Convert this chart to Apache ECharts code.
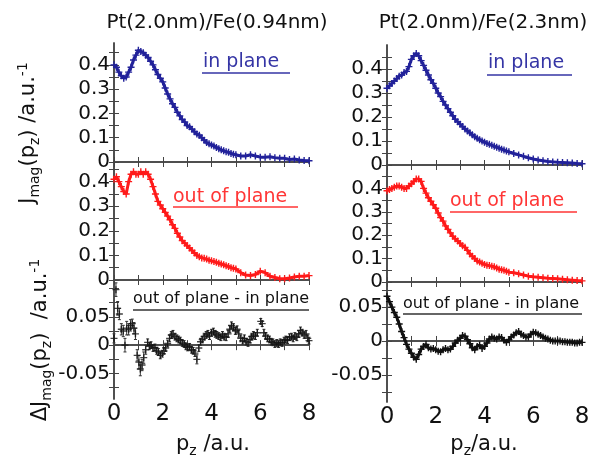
<!DOCTYPE html>
<html><head><meta charset="utf-8">
<script src="https://cdn.jsdelivr.net/npm/echarts@6/dist/echarts.min.js"></script>
<style>html,body{margin:0;padding:0;background:#fff}#c{width:605px;height:460px}</style>
</head><body><div id="c"></div>
<script>
// ---------- data ----------
const xGrid = [0,0.1,0.2,0.3,0.4,0.5,0.6,0.7,0.8,0.9,1.0,1.1,1.2,1.3,1.4,1.5,1.6,1.7,1.8,1.9,
  2.0,2.1,2.2,2.3,2.4,2.5,2.6,2.7,2.8,2.9,3.0,3.1,3.2,3.3,3.4,3.5,3.6,3.7,3.8,3.9,
  4.0,4.1,4.2,4.3,4.4,4.5,4.6,4.7,4.8,4.9,5.0,5.2,5.4,5.6,5.8,6.0,6.2,6.4,6.6,6.8,7.0,7.2,7.4,7.6,7.8,8.0];

const inPlaneThin = [0.40,0.39,0.37,0.355,0.345,0.35,0.37,0.39,0.42,0.44,
  0.46,0.455,0.45,0.44,0.43,0.415,0.40,0.38,0.36,0.345,
  0.33,0.305,0.28,0.26,0.24,0.225,0.205,0.19,0.175,0.165,
  0.15,0.145,0.135,0.125,0.115,0.11,0.10,0.09,0.08,0.075,
  0.07,0.066,0.06,0.055,0.05,0.046,0.042,0.04,0.035,0.032,
  0.03,0.025,0.025,0.03,0.025,0.02,0.02,0.022,0.018,0.015,0.015,0.01,0.012,0.008,0.006,0.005];

const outPlaneThin = [0.41,0.42,0.40,0.38,0.36,0.35,0.40,0.43,0.44,0.43,
  0.43,0.44,0.43,0.44,0.43,0.41,0.38,0.35,0.32,0.305,
  0.29,0.275,0.26,0.245,0.225,0.21,0.19,0.175,0.16,0.15,
  0.14,0.13,0.12,0.11,0.10,0.095,0.09,0.088,0.085,0.08,
  0.078,0.075,0.072,0.068,0.065,0.062,0.058,0.055,0.05,0.048,
  0.045,0.03,0.02,0.018,0.022,0.036,0.03,0.015,0.01,0.005,0.005,0.008,0.012,0.015,0.015,0.018];

const inPlaneThick = [0.32,0.33,0.34,0.35,0.36,0.37,0.375,0.385,0.39,0.41,
  0.44,0.455,0.465,0.455,0.435,0.415,0.395,0.375,0.355,0.34,
  0.32,0.30,0.285,0.265,0.25,0.235,0.22,0.205,0.19,0.18,
  0.17,0.16,0.15,0.142,0.134,0.126,0.118,0.111,0.105,0.10,
  0.095,0.09,0.086,0.082,0.078,0.074,0.07,0.066,0.062,0.058,
  0.055,0.048,0.042,0.036,0.03,0.025,0.021,0.018,0.015,0.013,0.011,0.01,0.009,0.008,0.006,0.005];

const outPlaneThick = [0.39,0.395,0.40,0.405,0.41,0.41,0.405,0.40,0.40,0.41,
  0.42,0.43,0.44,0.44,0.43,0.40,0.38,0.36,0.345,0.33,
  0.315,0.295,0.275,0.26,0.24,0.225,0.21,0.195,0.185,0.175,
  0.165,0.155,0.148,0.135,0.12,0.11,0.10,0.09,0.085,0.08,
  0.075,0.072,0.07,0.067,0.065,0.06,0.055,0.052,0.05,0.046,
  0.042,0.04,0.035,0.03,0.025,0.022,0.02,0.018,0.016,0.015,0.014,0.012,0.01,0.008,0.006,0.005];

const diffThinX = [0.00,0.08,0.15,0.22,0.30,0.38,0.45,0.52,0.60,0.68,0.75,0.82,0.88,0.95,1.02,1.08,1.15,1.22,1.30,1.38,
  1.45,1.52,1.60,1.68,1.75,1.82,1.90,1.98,2.05,2.12,2.20,2.28,2.35,2.42,2.50,2.58,2.65,2.72,2.80,2.88,
  2.95,3.02,3.10,3.18,3.25,3.32,3.40,3.48,3.55,3.62,3.70,3.78,3.85,3.92,4.00,4.08,4.15,4.22,4.30,4.38,
  4.45,4.52,4.60,4.68,4.75,4.82,4.90,4.98,5.05,5.12,5.20,5.28,5.35,5.42,5.50,5.58,5.65,5.72,5.80,5.88,
  6.02,6.08,6.15,6.22,6.30,6.38,6.45,6.52,6.60,6.68,6.75,6.82,6.90,6.98,7.05,7.12,7.20,7.28,7.35,7.42,
  7.50,7.58,7.65,7.72,7.80,7.88,7.95,8.00];
const diffThinY = [0.012,0.098,0.065,0.055,0.028,0.025,0.000,0.030,0.028,0.035,0.038,0.030,0.020,-0.018,-0.030,-0.042,-0.035,-0.022,-0.008,0.005,
  -0.002,0.000,-0.005,-0.004,-0.010,-0.012,-0.018,-0.015,-0.010,-0.005,0.003,0.012,0.018,0.020,0.015,0.012,0.010,0.008,0.004,0.002,
  -0.002,-0.004,-0.003,-0.008,-0.010,-0.014,-0.025,-0.005,0.006,0.010,0.015,0.018,0.020,0.016,0.022,0.024,0.020,0.018,0.016,0.014,
  0.018,0.015,0.014,0.020,0.028,0.035,0.032,0.025,0.028,0.020,0.012,0.008,0.012,0.006,0.004,0.010,0.015,0.018,0.016,0.022,
  0.042,0.038,0.022,0.016,0.012,0.010,0.006,0.005,0.002,0.004,0.002,0.005,0.004,0.008,0.010,0.009,0.014,0.015,0.012,0.016,
  0.014,0.020,0.026,0.022,0.018,0.020,0.012,0.008];
const diffThinErr = [0.008,0.012,0.012,0.010,0.010,0.010,0.012,0.012,0.010,0.010,0.008,0.010,0.010,0.010,0.012,0.012,0.010,0.010,0.008,0.006,
  0.006,0.006,0.006,0.006,0.006,0.006,0.006,0.006,0.006,0.006,0.006,0.006,0.006,0.006,0.006,0.006,0.006,0.006,0.006,0.006,
  0.006,0.006,0.006,0.006,0.006,0.006,0.008,0.006,0.006,0.006,0.006,0.006,0.006,0.006,0.006,0.006,0.006,0.006,0.006,0.006,
  0.006,0.006,0.006,0.006,0.006,0.006,0.006,0.006,0.006,0.006,0.006,0.006,0.006,0.006,0.006,0.006,0.006,0.006,0.006,0.006,
  0.005,0.005,0.006,0.006,0.006,0.006,0.006,0.006,0.006,0.006,0.006,0.006,0.006,0.006,0.006,0.006,0.006,0.006,0.006,0.006,
  0.006,0.006,0.006,0.006,0.006,0.006,0.006,0.006];

const diffThickX = [0,0.1,0.2,0.3,0.4,0.5,0.6,0.7,0.8,0.9,1.0,1.1,1.2,1.3,1.4,1.5,1.6,1.7,1.8,1.9,
  2.0,2.1,2.2,2.3,2.4,2.5,2.6,2.7,2.8,2.9,3.0,3.1,3.2,3.3,3.4,3.5,3.6,3.7,3.8,3.9,
  4.0,4.1,4.2,4.3,4.4,4.5,4.6,4.7,4.8,4.9,5.0,5.1,5.2,5.3,5.4,5.5,5.6,5.7,5.8,5.9,
  6.0,6.1,6.2,6.3,6.4,6.5,6.6,6.7,6.8,6.9,7.0,7.1,7.2,7.3,7.4,7.5,7.6,7.7,7.8,7.9,8.0];
const diffThickY = [0.066,0.058,0.050,0.042,0.035,0.025,0.014,0.005,-0.005,-0.012,-0.018,-0.024,-0.027,-0.020,-0.012,-0.008,-0.005,-0.010,-0.012,-0.011,
  -0.013,-0.015,-0.016,-0.013,-0.011,-0.013,-0.012,-0.008,-0.003,0.001,0.004,0.008,0.007,0.002,-0.004,-0.010,-0.013,-0.008,-0.006,-0.011,
  -0.008,-0.003,0.003,0.006,0.004,0.003,0.006,0.005,0.001,-0.002,0.002,0.006,0.009,0.012,0.014,0.010,0.008,0.006,0.006,0.010,
  0.013,0.012,0.010,0.008,0.006,0.004,0.003,0.001,0.000,0.000,0.000,0.000,-0.001,-0.001,-0.002,-0.002,-0.002,-0.003,-0.003,-0.002,-0.002];

// tick / label values
const xTicks = [0,1,2,3,4,5,6,7,8];
const xLabels = [0,2,4,6,8];
const jTicks = [0,0.05,0.1,0.15,0.2,0.25,0.3,0.35,0.4,0.45];
const jLabels = [0,0.1,0.2,0.3,0.4];
const dTicksL = [-0.075,-0.05,-0.025,0,0.025,0.05,0.075,0.1];
const dTicksR = [-0.075,-0.05,-0.025,0,0.025,0.05,0.075];
const dLabels = [-0.05,0,0.05];

const titles = ['Pt(2.0nm)/Fe(0.94nm)', 'Pt(2.0nm)/Fe(2.3nm)'];

// ---------- layout ----------
const FONT = 'DejaVu Sans';
const BLUE = '#22229a', RED = '#ff1a1a', BLACK = '#111111';
const AX = '#444444';
const grids = [
  {left:114, top:43,  width:195, height:119, ymin:0, ymax:0.49, yt:jTicks, yl:jLabels, xl:false},
  {left:114, top:162, width:195, height:118, ymin:0, ymax:0.48, yt:jTicks, yl:jLabels, xl:false},
  {left:114, top:280, width:195, height:119, ymin:-0.095, ymax:0.115, yt:dTicksL, yl:dLabels, xl:true},
  {left:387, top:45,  width:195, height:120, ymin:0, ymax:0.5, yt:jTicks, yl:jLabels, xl:false},
  {left:387, top:165, width:195, height:117, ymin:0, ymax:0.5, yt:jTicks, yl:jLabels, xl:false},
  {left:387, top:282, width:195, height:120, ymin:-0.09, ymax:0.087, yt:dTicksR, yl:dLabels, xl:true}
];

const gridOpt = [], xAxes = [], yAxes = [];
grids.forEach((g, i) => {
  gridOpt.push({left:g.left, top:g.top, width:g.width, height:g.height, containLabel:false, outerBoundsMode:'none'});
  const line = {show:true, lineStyle:{color:AX, width:1.5}};
  const tick = vals => ({show:true, inside:true, length:5, lineStyle:{color:AX, width:1}, customValues:vals});
  xAxes.push({type:'value', gridIndex:i, position:'bottom', min:0, max:8, axisLine:line, axisTick:tick(xTicks),
    splitLine:{show:false},
    axisLabel:{show:g.xl, customValues:xLabels, fontFamily:FONT, fontSize:23, color:'#111', margin:4}});
  xAxes.push({type:'value', gridIndex:i, position:'top', min:0, max:8, axisLine:line, axisTick:tick(xTicks),
    splitLine:{show:false}, axisLabel:{show:false}});
  yAxes.push({type:'value', gridIndex:i, position:'left', min:g.ymin, max:g.ymax, axisLine:line, axisTick:tick(g.yt),
    splitLine:{show:false},
    axisLabel:{show:true, customValues:g.yl, fontFamily:FONT, fontSize:20, color:'#111', margin:4}});
  yAxes.push({type:'value', gridIndex:i, position:'right', min:g.ymin, max:g.ymax, axisLine:line, axisTick:tick(g.yt),
    splitLine:{show:false}, axisLabel:{show:false}});
});

const PLUS = 'path://M2,0H3V5H2Z M0,2H5V3H0Z';
function pairs(xs, ys) { return xs.map((x, k) => [x, ys[k]]); }
function lineSeries(idx, xs, ys, color) {
  return {type:'line', xAxisIndex:idx*2, yAxisIndex:idx*2, data:pairs(xs, ys), showAllSymbol:true,
    symbol:PLUS, symbolSize:7, itemStyle:{color:color}, lineStyle:{color:color, width:3}, silent:true, z:3};
}

const series = [
  lineSeries(0, xGrid, inPlaneThin, BLUE),
  lineSeries(1, xGrid, outPlaneThin, RED),
  lineSeries(3, xGrid, inPlaneThick, BLUE),
  lineSeries(4, xGrid, outPlaneThick, RED),
  lineSeries(5, diffThickX, diffThickY, BLACK),
  {type:'custom', xAxisIndex:4, yAxisIndex:4, silent:true, z:2,
    data: diffThinX.map((x, k) => [x, diffThinY[k], diffThinErr[k]]),
    renderItem: function (params, api) {
      const x = api.value(0), y = api.value(1), e = api.value(2);
      const p1 = api.coord([x, y - e]), p2 = api.coord([x, y + e]);
      return {type:'group', children:[
        {type:'line', shape:{x1:p1[0], y1:p1[1], x2:p2[0], y2:p2[1]}, style:{stroke:'#333', lineWidth:1}},
        {type:'line', shape:{x1:p1[0]-1.5, y1:p1[1], x2:p1[0]+1.5, y2:p1[1]}, style:{stroke:'#333', lineWidth:1}},
        {type:'line', shape:{x1:p2[0]-1.5, y1:p2[1], x2:p2[0]+1.5, y2:p2[1]}, style:{stroke:'#333', lineWidth:1}}
      ]};
    }},
  {type:'scatter', xAxisIndex:4, yAxisIndex:4, data:pairs(diffThinX, diffThinY), symbol:PLUS, symbolSize:7,
    itemStyle:{color:BLACK}, silent:true, z:3}
];

function txt(x, y, text, size, color, align) {
  return {type:'text', x:x, y:y, silent:true, z:10,
    style:{text:text, fontFamily:FONT, fontSize:size, fill:color, align:align || 'left', verticalAlign:'middle'}};
}
function uline(x1, x2, y, color, w) {
  return {type:'line', silent:true, z:10, shape:{x1:x1, y1:y, x2:x2, y2:y}, style:{stroke:color, lineWidth:w || 1.5}};
}
const richBase = {
  a:{fontFamily:FONT, fontSize:21, lineHeight:26, fill:'#111'},
  s:{fontFamily:FONT, fontSize:14, lineHeight:15, fill:'#111', verticalAlign:'bottom'},
  p:{fontFamily:FONT, fontSize:14, lineHeight:15, fill:'#111', verticalAlign:'top'}
};
function richText(x, y, text, rot) {
  return {type:'text', x:x, y:y, rotation:rot || 0, silent:true, z:10,
    style:{text:text, rich:richBase, align:'center', verticalAlign:'middle'}};
}

const graphic = [
  txt(217, 23, titles[0], 20, '#111', 'center'),
  txt(483, 23, titles[1], 20, '#111', 'center'),
  txt(203, 62, 'in plane', 19, '#3535a5'), uline(202, 290, 73, '#3535a5'),
  txt(488, 63.5, 'in plane', 19, '#3535a5'), uline(487, 572, 75, '#3535a5'),
  txt(173, 197.5, 'out of plane', 19, '#ff3535'), uline(173, 298, 207, '#ff3535'),
  txt(450, 201.5, 'out of plane', 19, '#ff3535'), uline(450, 577, 212, '#ff3535'),
  txt(133, 298.5, 'out of plane - in plane', 16, '#111'), uline(133, 309, 310, '#666', 2),
  txt(403, 303.5, 'out of plane - in plane', 16, '#111'), uline(403, 582, 314, '#666', 2),
  richText(213, 445, '{a|p}{s|z}{a| /a.u.}'),
  richText(484, 445, '{a|p}{s|z}{a|/a.u.}'),
  richText(29, 133, '{a|J}{s|mag}{a|(p}{s|z}{a|) /a.u.}{p|-1}', Math.PI / 2),
  richText(41, 340, '{a|ΔJ}{s|mag}{a|(p}{s|z}{a|)  /a.u.}{p|-1}', Math.PI / 2)
];

const chart = echarts.init(document.getElementById('c'), null, {renderer:'canvas'});
chart.setOption({animation:false, backgroundColor:'#fff', grid:gridOpt, xAxis:xAxes, yAxis:yAxes, series:series, graphic:graphic});
</script></body></html>
